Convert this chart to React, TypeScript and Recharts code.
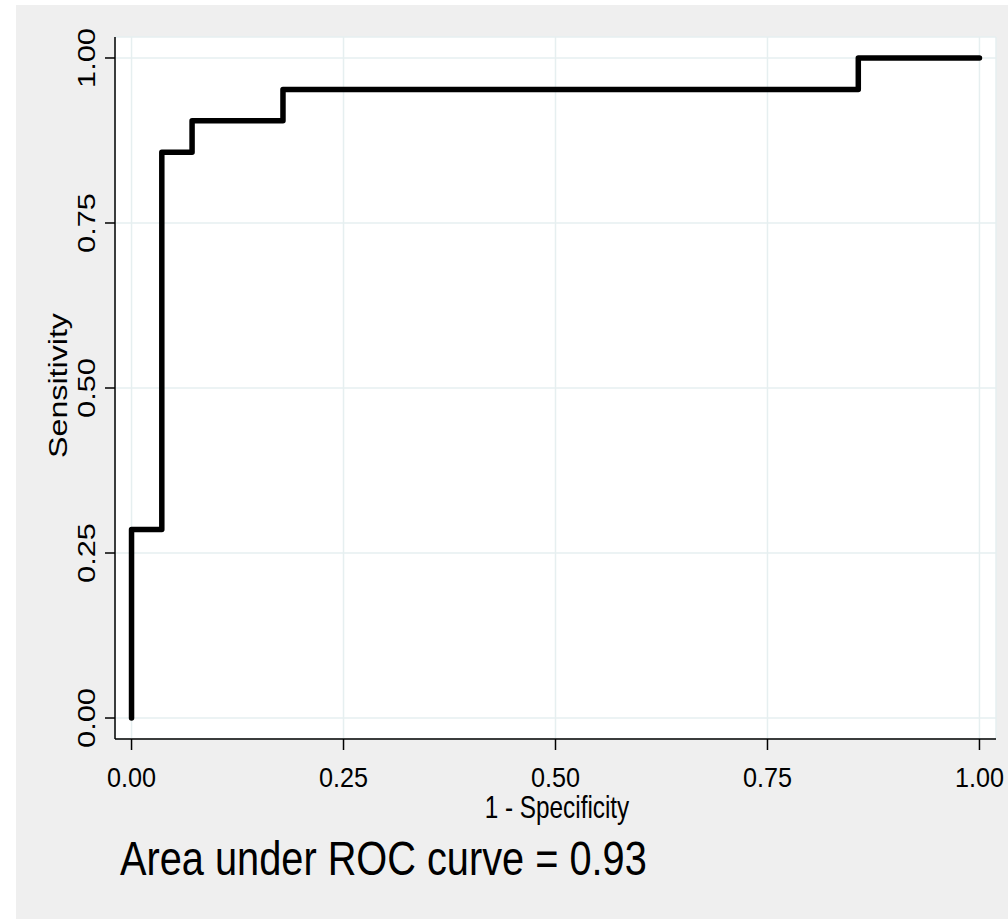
import React from "react";
import { LineChart, Line, XAxis, YAxis, CartesianGrid, Customized } from "recharts";

// ROC curve points (1 - specificity, sensitivity)
const fpr = [0, 0, 0.0357, 0.0357, 0.0714, 0.0714, 0.1786, 0.1786, 0.8571, 0.8571, 1];
const tpr = [0, 0.2857, 0.2857, 0.8571, 0.8571, 0.9048, 0.9048, 0.9524, 0.9524, 1, 1];

const xTicks = [0, 0.25, 0.5, 0.75, 1];
const yTicks = [0, 0.25, 0.5, 0.75, 1];
const tickLabels = ["0.00", "0.25", "0.50", "0.75", "1.00"];

const xTitle = "1 - Specificity";
const yTitle = "Sensitivity";
const note = "Area under ROC curve = 0.93";

const data = fpr.map((x, i) => ({ x, y: tpr[i] }));

const FONT = "'Liberation Sans', Arial, sans-serif";

const labelFor = (v: number) => {
  const i = xTicks.indexOf(v);
  return i >= 0 ? tickLabels[i] : v.toFixed(2);
};

const XTick = (props: any) => {
  const { x, y, payload } = props;
  return (
    <text
      transform={`translate(${x},${y + 35}) scale(0.9,1)`}
      textAnchor="middle"
      fontSize={28}
      fontFamily={FONT}
      fill="#000"
    >
      {labelFor(payload.value)}
    </text>
  );
};

const YTick = (props: any) => {
  const { x, y, payload } = props;
  return (
    <text
      transform={`translate(${x - 8},${y}) scale(0.77,1) rotate(-90)`}
      textAnchor="middle"
      fontSize={30.8}
      fontFamily={FONT}
      fill="#000"
    >
      {labelFor(payload.value)}
    </text>
  );
};

const Titles = () => (
  <g>
    <text
      transform="translate(557,818) scale(0.76,1)"
      textAnchor="middle"
      fontSize={32}
      fontFamily={FONT}
      fill="#000"
    >
      {xTitle}
    </text>
    <text
      transform="translate(67,385.5) scale(0.82,1) rotate(-90)"
      textAnchor="middle"
      fontSize={32.2}
      fontFamily={FONT}
      fill="#000"
    >
      {yTitle}
    </text>
    <text
      transform="translate(120,875) scale(0.811,1)"
      textAnchor="start"
      fontSize={49}
      fontFamily={FONT}
      fill="#000"
    >
      {note}
    </text>
  </g>
);

export default function App() {
  return (
    <div style={{ position: "absolute", left: 0, top: 0, width: 1008, height: 920, background: "#fff" }}>
      <div style={{ position: "absolute", left: 16, top: 5, width: 992, height: 914, background: "#efefef" }} />
      <div style={{ position: "absolute", left: 0, top: 0 }}>
        <LineChart width={1008} height={920} data={data} margin={{ top: 37, right: 12, bottom: 0, left: 0 }}>
          <CartesianGrid fill="#ffffff" stroke="#e6eff0" strokeWidth={1.5} />
          <XAxis
            type="number"
            dataKey="x"
            domain={[-0.0195, 1.0195]}
            ticks={xTicks}
            allowDataOverflow
            height={181}
            tickSize={11}
            axisLine={{ stroke: "#000", strokeWidth: 1.5 }}
            tickLine={{ stroke: "#000", strokeWidth: 1.5 }}
            tick={<XTick />}
            interval={0}
          />
          <YAxis
            type="number"
            dataKey="y"
            domain={[-0.0318, 1.0318]}
            ticks={yTicks}
            allowDataOverflow
            width={115}
            tickSize={10}
            axisLine={{ stroke: "#000", strokeWidth: 1.5 }}
            tickLine={{ stroke: "#000", strokeWidth: 1.5 }}
            tick={<YTick />}
            interval={0}
          />
          <Line
            type="linear"
            dataKey="y"
            stroke="#000"
            strokeWidth={5.5}
            strokeLinecap="round"
            strokeLinejoin="round"
            dot={false}
            activeDot={false}
            isAnimationActive={false}
          />
          <Customized component={Titles} />
        </LineChart>
      </div>
    </div>
  );
}
